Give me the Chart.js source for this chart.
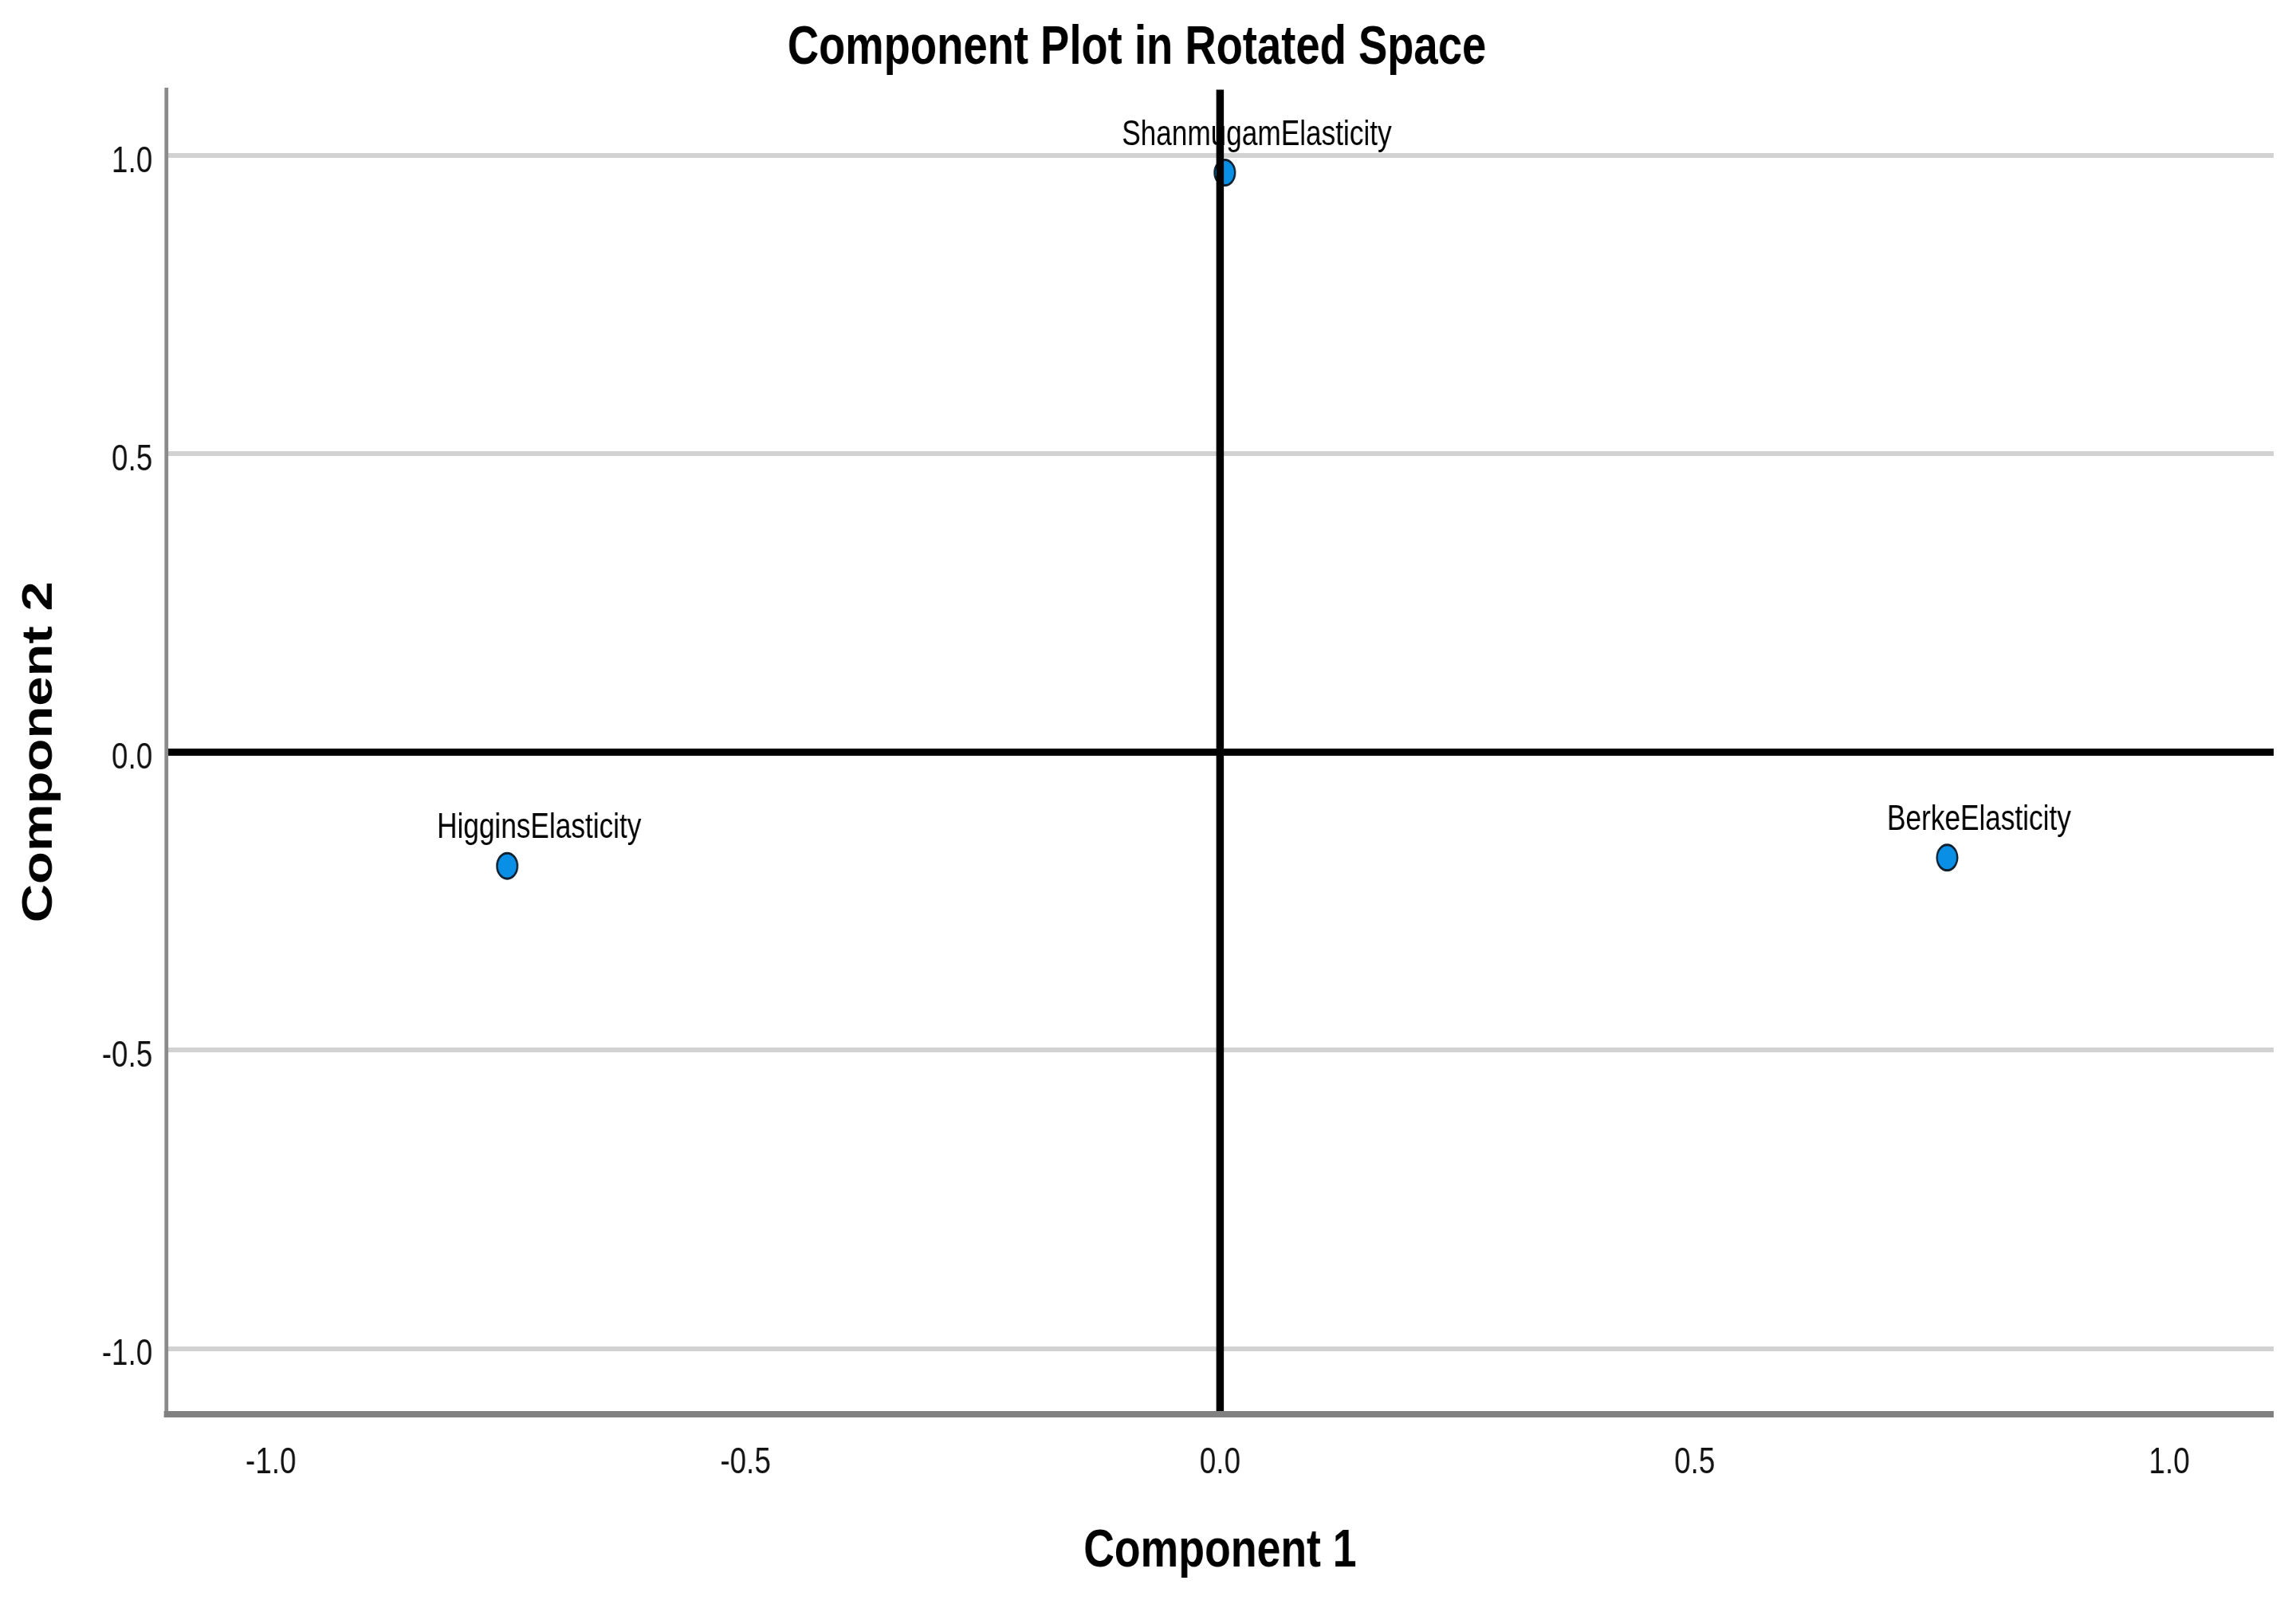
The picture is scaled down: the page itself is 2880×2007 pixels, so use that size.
<!DOCTYPE html>
<html>
<head>
<meta charset="utf-8">
<title>Component Plot in Rotated Space</title>
<script src="https://cdn.jsdelivr.net/npm/chart.js@4.4.1/dist/chart.umd.min.js"></script>
<style>
  html, body { margin: 0; padding: 0; background: #fff; overflow: hidden; }
  #plot { display: block; }
</style>
</head>
<body>
<!-- drawn 1.25x wide then squeezed back to 2880, like the narrow SPSS export -->
<canvas id="plot" width="3600" height="2007" style="width:2880px;height:2007px"></canvas>
<script>
const variables = ['HigginsElasticity', 'ShanmugamElasticity', 'BerkeElasticity'];
const component1 = [-0.751, 0.005, 0.766];
const component2 = [-0.191, 0.971, -0.177];
const tickValues = [-1.0, -0.5, 0.0, 0.5, 1.0];
const axisMin = -1.11;
const axisMax = 1.11;

const FONT = '"Liberation Sans", Arial, Helvetica, sans-serif';

const points = variables.map((name, i) => ({ x: component1[i], y: component2[i], name }));

// names written above each dot, under the reference lines
const pointLabels = {
  id: 'pointLabels',
  afterDatasetsDraw(chart) {
    const ctx = chart.ctx;
    const meta = chart.getDatasetMeta(0);
    ctx.save();
    ctx.font = '44px ' + FONT;
    ctx.fillStyle = '#000';
    ctx.textAlign = 'center';
    ctx.textBaseline = 'alphabetic';
    meta.data.forEach((el, i) => {
      ctx.fillText(variables[i], el.x + 50, el.y - 35);
    });
    ctx.restore();
  }
};

function isZero(c) {
  return c.tick && Math.abs(c.tick.value) < 1e-9;
}

function fixTicks(scale) {
  scale.ticks = tickValues.map(v => ({ value: v }));
}

new Chart(document.getElementById('plot'), {
  type: 'scatter',
  data: {
    datasets: [{
      data: points,
      pointRadius: 16,
      pointBorderWidth: 3,
      pointBackgroundColor: '#0a8fe6',
      pointBorderColor: '#10202e',
      pointHoverRadius: 16
    }]
  },
  options: {
    responsive: false,
    devicePixelRatio: 1,
    animation: false,
    events: [],
    layout: { padding: { left: 0, right: 35, top: 0, bottom: 0 } },
    plugins: {
      legend: { display: false },
      tooltip: { enabled: false },
      title: {
        display: true,
        text: 'Component Plot in Rotated Space',
        color: '#000',
        font: { family: FONT, size: 68, weight: 'bold' },
        padding: { top: 20, bottom: 11 }
      }
    },
    scales: {
      x: {
        type: 'linear',
        min: axisMin,
        max: axisMax,
        afterBuildTicks: fixTicks,
        afterFit: s => { s.height = 233; },
        grid: {
          z: 1,
          drawTicks: false,
          color: c => isZero(c) ? '#000' : 'rgba(0,0,0,0)',
          lineWidth: c => isZero(c) ? 12 : 0
        },
        border: { display: true, z: 1, color: '#808080', width: 8 },
        ticks: {
          padding: 34,
          color: '#111',
          font: { family: FONT, size: 46 },
          callback: v => Number(v).toFixed(1)
        },
        title: {
          display: true,
          text: 'Component 1',
          color: '#000',
          font: { family: FONT, size: 67, weight: 'bold' },
          padding: { top: 0, bottom: 20 }
        }
      },
      y: {
        type: 'linear',
        min: axisMin,
        max: axisMax,
        afterBuildTicks: fixTicks,
        afterFit: s => { s.width = 261; },
        grid: {
          drawTicks: false,
          color: c => isZero(c) ? '#000' : '#d2d2d2',
          lineWidth: c => isZero(c) ? 9 : 6
        },
        border: { display: true, color: '#8a8a8a', width: 6 },
        ticks: {
          padding: 22,
          labelOffset: 8,
          color: '#111',
          font: { family: FONT, size: 46 },
          callback: v => Number(v).toFixed(1)
        },
        title: {
          display: true,
          text: 'Component 2',
          color: '#000',
          font: { family: FONT, size: 67, weight: 'bold' },
          padding: { top: 22, bottom: 0 }
        }
      }
    }
  },
  plugins: [pointLabels]
});
</script>
</body>
</html>
